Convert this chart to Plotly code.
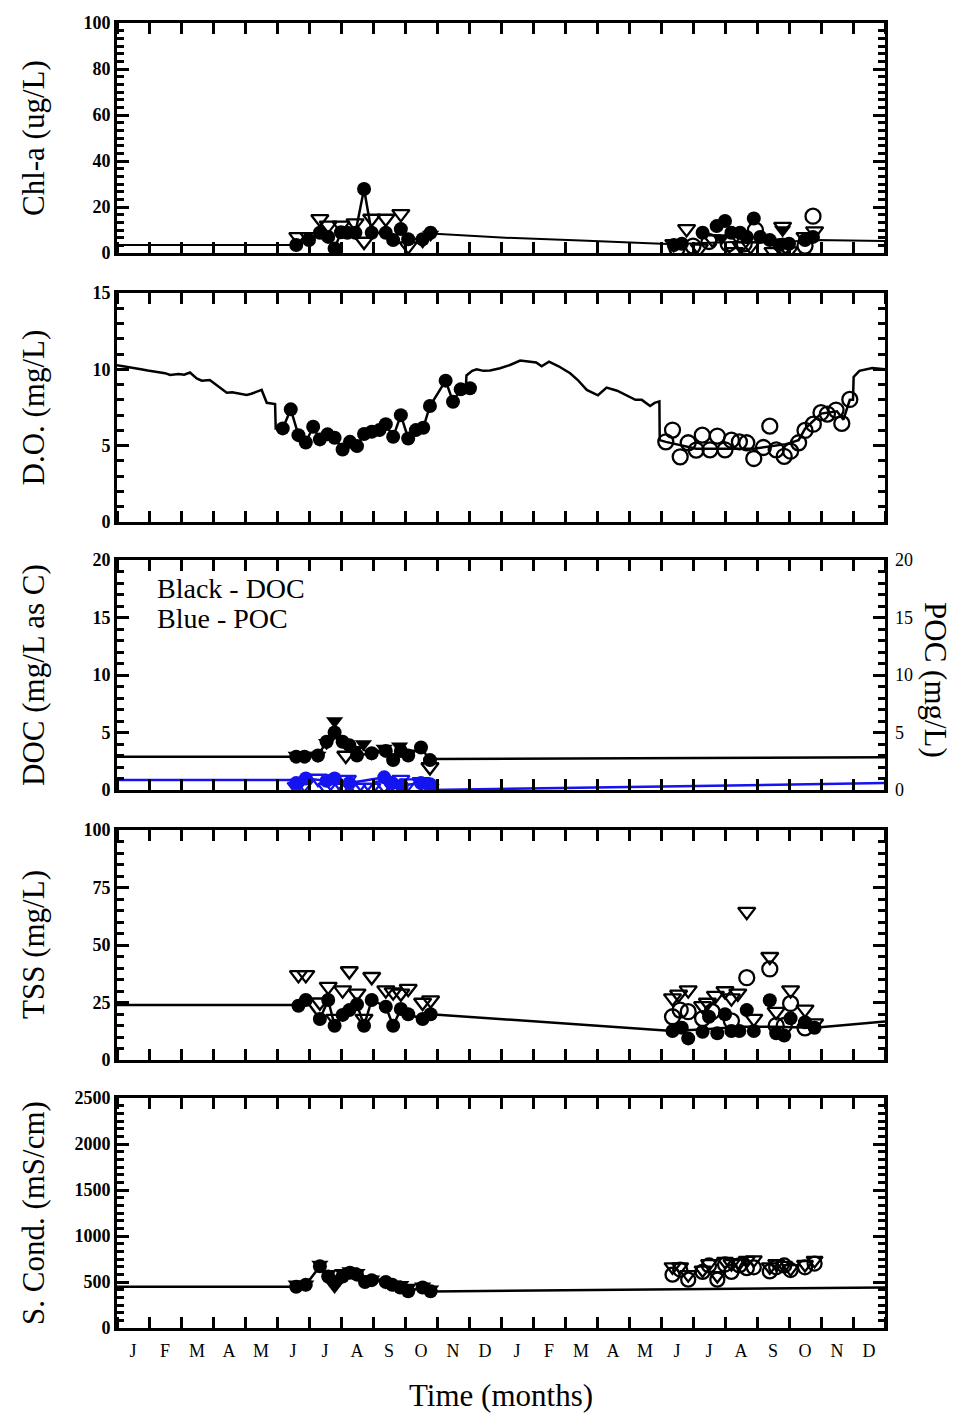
import plotly.graph_objects as go

# ---------------- data (x in months from Jan 1 of year 1; 0..24) ----------------
MONTH_LABELS = ["J", "F", "M", "A", "M", "J", "J", "A", "S", "O", "N", "D"] * 2

# Chl-a (ug/L)
chl_model_m = [0, 5.6, None, 9.8, 12.0, 14.5, 17.0, 17.4, 18.3, 19.5, 20.5, 21.8, 24.0]
chl_model_v = [3.5, 3.5, None, 8.5, 6.7, 5.4, 4.2, 3.8, 4.4, 4.9, 4.5, 5.6, 5.2]
chl_y1_circ_m = [5.6, 6.0, 6.34, 6.6, 6.8, 7.0, 7.2, 7.45, 7.72, 7.96, 8.4, 8.63, 8.87, 9.1, 9.55, 9.8]
chl_y1_circ_v = [3.5, 5.6, 8.8, 7.0, 2.0, 9.0, 8.8, 8.8, 27.8, 8.8, 8.8, 5.6, 10.4, 6.0, 6.0, 8.8]
chl_y1_tri_m = [5.65, 6.0, 6.34, 6.6, 7.0, 7.44, 7.72, 7.96, 8.4, 8.87, 9.1]
chl_y1_tri_v = [7.0, 7.0, 14.8, 12.0, 12.0, 13.0, 5.0, 15.0, 15.0, 17.0, 3.0]
chl_y1_ftri_m = [9.55, 9.8]
chl_y1_ftri_v = [5.0, 8.0]
chl_y2_circ_m = [17.4, 17.65, 18.3, 18.74, 19.0, 19.2, 19.47, 19.68, 19.9, 20.1, 20.4, 20.7, 21.0, 21.5, 21.75]
chl_y2_circ_v = [3.5, 4.0, 8.8, 11.7, 13.9, 8.8, 8.8, 7.0, 15.0, 7.0, 5.6, 3.5, 4.0, 5.6, 7.0]
chl_y2_ocirc_m = [17.5, 18.0, 18.5, 19.1, 19.6, 19.95, 20.8, 21.5, 21.75]
chl_y2_ocirc_v = [2.0, 3.0, 5.0, 4.0, 4.0, 10.0, 3.0, 3.0, 16.0]
chl_y2_tri_m = [17.4, 17.8, 18.2, 18.6, 19.3, 19.5, 19.8, 20.5, 20.8, 21.0, 21.5, 21.8]
chl_y2_tri_v = [4.0, 10.5, 2.0, 6.0, 0.5, 3.0, 3.0, 0.5, 11.5, 0.8, 7.0, 9.5]
chl_y2_ftri_m = [17.5, 18.9, 20.8, 21.6]
chl_y2_ftri_v = [4.5, 6.5, 10.0, 7.5]

# D.O. (mg/L)
do_model_m = [0, 0.2, 0.51, 0.75, 0.96, 1.29, 1.5, 1.66, 1.92, 2.1, 2.28, 2.49, 2.65, 2.9, 3.17, 3.43,
              3.6, 3.74, 4.05, 4.2, 4.31, 4.52, 4.68, 4.94, 4.96, 5.18, None,
              10.9, 10.92, 11.1, 11.24, 11.45, 11.66, 11.97, 12.3, 12.6, 12.9, 13.1, 13.27, 13.5, 13.8,
              14.16, 14.4, 14.68, 15.03, 15.3, 15.63, 15.9, 16.2, 16.4, 16.66, 16.8, 16.95, 16.96,
              17.15, 18.1, 19.9, 20.9, 21.3, 21.5, 22.0, 22.5, 22.7, 22.9, 23.0, 23.02, 23.2, 23.6, 24.0]
do_model_v = [10.27, 10.2, 10.13, 10.0, 9.92, 9.79, 9.75, 9.63, 9.7, 9.65, 9.79, 9.41, 9.26, 9.3, 8.87, 8.47,
              8.5, 8.43, 8.32, 8.4, 8.47, 8.65, 7.81, 7.73, 6.13, 6.13, None,
              8.72, 9.6, 9.9, 10.0, 9.9, 9.92, 10.07, 10.3, 10.57, 10.5, 10.45, 10.2, 10.5, 10.2,
              9.74, 9.3, 8.65, 8.3, 8.8, 8.6, 8.3, 8.0, 8.0, 7.6, 7.8, 7.9, 5.36,
              5.25, 4.8, 4.8, 5.1, 5.36, 6.1, 7.1, 7.25, 6.7, 8.0, 8.0, 9.5, 9.9, 10.08, 10.0]
do_y1_m = [5.18, 5.43, 5.67, 5.9, 6.13, 6.34, 6.58, 6.8, 7.05, 7.28, 7.5, 7.72, 7.96, 8.2, 8.4, 8.63,
           8.87, 9.1, 9.34, 9.57, 9.78, 10.27, 10.5, 10.74, 11.03]
do_y1_v = [6.13, 7.38, 5.69, 5.21, 6.24, 5.41, 5.74, 5.52, 4.75, 5.25, 4.97, 5.76, 5.91, 6.02, 6.41, 5.58,
           7.0, 5.47, 6.02, 6.17, 7.6, 9.26, 7.88, 8.69, 8.76]
do_y2_m = [17.15, 17.36, 17.6, 17.85, 18.1, 18.29, 18.53, 18.76, 19.0, 19.2, 19.45, 19.68, 19.9, 20.2,
           20.4, 20.6, 20.85, 21.05, 21.3, 21.5, 21.76, 22.0, 22.2, 22.47, 22.65, 22.9]
do_y2_v = [5.25, 6.02, 4.27, 5.19, 4.71, 5.69, 4.73, 5.63, 4.73, 5.36, 5.25, 5.19, 4.16, 4.88,
           6.28, 4.73, 4.3, 4.64, 5.19, 6.0, 6.41, 7.16, 7.07, 7.33, 6.46, 8.03]

# DOC / POC (mg/L)
doc_model_m = [0, 5.6, None, 9.78, 24.0]
doc_model_v = [2.9, 2.9, None, 2.7, 2.85]
doc_circ_m = [5.6, 5.86, 6.28, 6.55, 6.8, 7.05, 7.26, 7.5, 7.96, 8.4, 8.63, 8.87, 9.1, 9.5, 9.78]
doc_circ_v = [2.9, 2.9, 3.0, 4.2, 5.0, 4.2, 3.9, 3.0, 3.2, 3.4, 2.6, 3.4, 3.0, 3.7, 2.6]
doc_ftri_m = [5.6, 5.86, 6.28, 6.55, 6.8, 7.15, 7.44, 7.7, 7.96, 8.35, 8.83, 9.1]
doc_ftri_v = [3.0, 3.0, 3.0, 4.1, 6.0, 4.0, 3.5, 4.0, 3.2, 3.6, 3.8, 3.2]
doc_otri_m = [7.15, 9.78]
doc_otri_v = [3.0, 2.0]
poc_model_m = [0, 5.6, None, 9.78, 24.0]
poc_model_v = [0.87, 0.87, None, 0.0, 0.6]
poc_circ_m = [5.6, 5.9, 6.55, 6.8, 7.26, 8.35, 8.6, 8.9, 9.5, 9.78]
poc_circ_v = [0.6, 1.0, 0.8, 1.0, 0.6, 1.1, 0.6, 0.4, 0.6, 0.5]
poc_tri_m = [5.6, 5.86, 6.28, 6.55, 6.8, 7.05, 7.2, 7.5, 7.72, 7.96, 8.35, 8.63, 8.87, 9.1, 9.5, 9.78]
poc_tri_v = [0.3, 0.5, 1.0, 0.2, 0.2, 0.3, 0.9, 0.2, 0.2, 0.2, 0.4, 0.2, 0.9, 0.6, 0.7, 0.2]
poc_scale_ticks = [0, 5, 10, 15, 20]

# TSS (mg/L)
tss_model_m = [0, 5.67, None, 9.8, 12.0, 17.0, 17.36, 18.5, 19.5, 20.5, 21.8, 24.0]
tss_model_v = [23.9, 23.9, None, 19.9, 17.8, 13.0, 12.6, 13.5, 14.5, 14.5, 14.0, 16.7]
tss_y1_circ_m = [5.67, 5.9, 6.34, 6.6, 6.8, 7.05, 7.26, 7.5, 7.72, 7.96, 8.4, 8.63, 8.87, 9.1, 9.55, 9.8]
tss_y1_circ_v = [23.6, 26.1, 17.8, 26.1, 14.9, 19.6, 21.7, 24.2, 14.9, 26.1, 23.2, 14.9, 22.2, 19.9, 17.8, 19.9]
tss_y1_tri_m = [5.67, 5.9, 6.34, 6.6, 6.8, 7.05, 7.26, 7.5, 7.72, 7.96, 8.4, 8.63, 8.87, 9.1, 9.55, 9.8]
tss_y1_tri_v = [37.0, 37.0, 25.1, 31.9, 18.0, 30.4, 38.7, 29.0, 18.0, 36.2, 30.4, 29.5, 29.0, 31.0, 25.0, 26.0]
tss_y2_circ_m = [17.36, 17.65, 17.85, 18.3, 18.5, 18.76, 19.0, 19.2, 19.45, 19.68, 19.9, 20.4, 20.6, 20.85,
                 21.05, 21.5, 21.8]
tss_y2_circ_v = [12.6, 14.0, 9.4, 12.3, 18.8, 11.6, 19.9, 12.6, 12.6, 21.7, 12.6, 26.0, 11.6, 10.6,
                 18.1, 16.4, 14.0]
tss_y2_ocirc_m = [17.36, 17.6, 17.85, 18.3, 18.6, 19.2, 19.68, 20.4, 20.6, 20.85, 21.05, 21.5]
tss_y2_ocirc_v = [18.8, 21.7, 21.0, 18.0, 21.0, 17.0, 35.8, 39.6, 15.0, 15.0, 24.6, 14.0]
tss_y2_tri_m = [17.36, 17.55, 17.85, 18.3, 18.45, 18.7, 19.0, 19.2, 19.4, 19.68, 19.9, 20.4, 20.6, 21.05,
                21.5, 21.8]
tss_y2_tri_v = [26.9, 28.5, 30.4, 23.5, 25.0, 28.0, 30.0, 26.9, 29.0, 64.5, 18.0, 44.9, 21.0, 30.4,
                22.0, 16.0]

# Specific conductance (mS/cm)
sc_model_m = [0, 5.6, None, 9.8, 24.0]
sc_model_v = [449, 449, None, 398, 441]
sc_y1_circ_m = [5.6, 5.9, 6.34, 6.6, 6.8, 7.05, 7.28, 7.5, 7.75, 7.96, 8.4, 8.6, 8.85, 9.1, 9.55, 9.8]
sc_y1_circ_v = [449, 470, 670, 560, 500, 560, 600, 580, 500, 520, 500, 470, 440, 400, 440, 400]
sc_y1_tri_m = [5.6, 5.9, 6.34, 6.6, 6.8, 7.05, 7.28, 7.5, 7.75, 7.96, 8.4, 8.63, 8.87, 9.1, 9.55, 9.8]
sc_y1_tri_v = [475, 475, 690, 590, 450, 600, 620, 600, 530, 530, 500, 475, 470, 440, 455, 420]
sc_y2_circ_m = [17.36, 17.6, 17.85, 18.3, 18.5, 18.76, 19.0, 19.2, 19.45, 19.68, 19.9, 20.4, 20.6, 20.85,
                21.05, 21.5, 21.8]
sc_y2_circ_v = [580, 635, 525, 610, 680, 525, 690, 610, 680, 650, 660, 615, 660, 680, 630, 660, 700]
sc_y2_tri_m = [17.36, 17.6, 17.85, 18.3, 18.5, 18.76, 19.0, 19.2, 19.45, 19.68, 19.9, 20.4, 20.6, 20.85,
               21.05, 21.5, 21.8]
sc_y2_tri_v = [665, 665, 580, 630, 700, 570, 725, 700, 710, 735, 740, 665, 700, 680, 645, 690, 735]

# ---------------- layout geometry ----------------
W, H = 967, 1413
ML, MR, MT, MB = 117, 82, 23, 85
PLOT_H = H - MT - MB
# panel (top, bottom) pixel rows
PANELS = [(23, 253), (293, 522), (560, 790), (830, 1060), (1098, 1328)]


def dom(top, bot):
    base = H - MB
    return [(base - bot) / PLOT_H, (base - top) / PLOT_H]


SERIF = "Liberation Serif, Times New Roman, serif"
BLACK = "black"
BLUE = "#1414f0"
TITLE_SIZE = 31
KEY_SIZE = 28

fig = go.Figure()


def line(xa, ya, m, v, color=BLACK, width=2.5):
    fig.add_trace(go.Scatter(x=m, y=v, mode="lines", xaxis=xa, yaxis=ya,
                             line=dict(color=color, width=width), connectgaps=False,
                             showlegend=False, hoverinfo="skip"))


def pts(xa, ya, m, v, symbol, color=BLACK, size=14, lines=False):
    open_sym = symbol.endswith("-open")
    fig.add_trace(go.Scatter(
        x=m, y=v, xaxis=xa, yaxis=ya,
        mode="lines+markers" if lines else "markers",
        line=dict(color=color, width=2.5),
        marker=dict(symbol=symbol, size=size, color=color,
                    line=dict(color=color, width=2.3 if open_sym else 0)),
        showlegend=False, hoverinfo="skip"))


CIRC, OCIRC, TRI = 14, 15, 15

# Panel 1: Chl-a
line("x", "y", chl_model_m, chl_model_v, width=2)
pts("x", "y", chl_y1_tri_m, chl_y1_tri_v, "triangle-down-open", size=TRI)
pts("x", "y", chl_y1_ftri_m, chl_y1_ftri_v, "triangle-down", size=TRI)
pts("x", "y", chl_y1_circ_m, chl_y1_circ_v, "circle", size=CIRC, lines=True)
pts("x", "y", chl_y2_tri_m, chl_y2_tri_v, "triangle-down-open", size=TRI)
pts("x", "y", chl_y2_ftri_m, chl_y2_ftri_v, "triangle-down", size=TRI)
pts("x", "y", chl_y2_ocirc_m, chl_y2_ocirc_v, "circle-open", size=OCIRC)
pts("x", "y", chl_y2_circ_m, chl_y2_circ_v, "circle", size=CIRC)

# Panel 2: D.O.
line("x2", "y2", do_model_m, do_model_v)
pts("x2", "y2", do_y1_m, do_y1_v, "circle", size=CIRC, lines=True)
pts("x2", "y2", do_y2_m, do_y2_v, "circle-open", size=OCIRC)

# Panel 3: DOC (black) and POC (blue)
line("x3", "y3", doc_model_m, doc_model_v)
line("x3", "y3", poc_model_m, poc_model_v, color=BLUE)
pts("x3", "y3", doc_circ_m, doc_circ_v, "circle", size=CIRC, lines=True)
pts("x3", "y3", doc_ftri_m, doc_ftri_v, "triangle-down", size=TRI)
pts("x3", "y3", doc_otri_m, doc_otri_v, "triangle-down-open", size=TRI)
pts("x3", "y3", poc_tri_m, poc_tri_v, "triangle-down-open", color=BLUE, size=TRI)
pts("x3", "y3", poc_circ_m, poc_circ_v, "circle", color=BLUE, size=CIRC, lines=True)
# invisible trace so the right-hand POC scale is rendered
fig.add_trace(go.Scatter(x=[None], y=[None], xaxis="x3", yaxis="y6", mode="markers",
                         showlegend=False, hoverinfo="skip"))

# Panel 4: TSS
line("x4", "y4", tss_model_m, tss_model_v)
pts("x4", "y4", tss_y1_tri_m, tss_y1_tri_v, "triangle-down-open", size=TRI)
pts("x4", "y4", tss_y1_circ_m, tss_y1_circ_v, "circle", size=CIRC, lines=True)
pts("x4", "y4", tss_y2_tri_m, tss_y2_tri_v, "triangle-down-open", size=TRI)
pts("x4", "y4", tss_y2_ocirc_m, tss_y2_ocirc_v, "circle-open", size=OCIRC)
pts("x4", "y4", tss_y2_circ_m, tss_y2_circ_v, "circle", size=CIRC)

# Panel 5: specific conductance
line("x5", "y5", sc_model_m, sc_model_v)
pts("x5", "y5", sc_y1_circ_m, sc_y1_circ_v, "circle", size=CIRC, lines=True)
pts("x5", "y5", sc_y1_tri_m, sc_y1_tri_v, "triangle-down", size=TRI)
pts("x5", "y5", sc_y2_circ_m, sc_y2_circ_v, "circle-open", size=OCIRC - 1)
pts("x5", "y5", sc_y2_tri_m, sc_y2_tri_v, "triangle-down-open", size=TRI - 1)

# ---------------- axes ----------------
tick_font = dict(family=SERIF, size=18, color=BLACK, weight="bold")
layout = dict(
    width=W, height=H,
    margin=dict(l=ML, r=MR, t=MT, b=MB, pad=0),
    paper_bgcolor="white", plot_bgcolor="white",
    font=dict(family=SERIF, color=BLACK),
    showlegend=False,
)

y_specs = [
    # (range max, major step, number of minor intervals, title)
    (100, 20, 6, "Chl-a (ug/L)"),
    (15, 5, 5, "D.O. (mg/L)"),
    (20, 5, 5, "DOC (mg/L as C)"),
    (100, 25, 5, "TSS (mg/L)"),
    (2500, 500, 6, "S. Cond. (mS/cm)"),
]

for i, ((top, bot), (ymax, step, nminor, title)) in enumerate(zip(PANELS, y_specs), start=1):
    sx = "" if i == 1 else str(i)
    majors = [k * step for k in range(int(round(ymax / step)) + 1)]
    minors = [k * step / nminor for k in range(int(round(ymax / step)) * nminor + 1) if k % nminor]
    layout["xaxis" + sx] = dict(
        domain=[0, 1], anchor="y" + sx, range=[0, 24],
        showline=True, linewidth=3, linecolor=BLACK, mirror="allticks",
        showgrid=False, zeroline=False,
        tickmode="array", tickvals=[k + 0.5 for k in range(24)], ticktext=MONTH_LABELS,
        ticks="", showticklabels=(i == 5), tickfont=dict(family=SERIF, size=18, color=BLACK),
        ticklabelstandoff=4,
        minor=dict(tickmode="array", tickvals=list(range(25)), ticks="inside",
                   ticklen=11, tickwidth=3, tickcolor=BLACK, showgrid=False),
    )
    layout["yaxis" + sx] = dict(
        domain=dom(top, bot), anchor="x" + sx, range=[0, ymax],
        showline=True, linewidth=3, linecolor=BLACK, mirror="allticks",
        showgrid=False, zeroline=False,
        tickmode="array", tickvals=majors, ticktext=[str(v) for v in majors],
        ticks="inside", ticklen=12, tickwidth=3, tickcolor=BLACK,
        tickfont=tick_font,
        minor=dict(tickmode="array", tickvals=minors, ticks="inside",
                   ticklen=7, tickwidth=3, tickcolor=BLACK, showgrid=False),
    )

# right-hand POC scale on panel 3
layout["yaxis6"] = dict(
    overlaying="y3", side="right", anchor="x3", range=[0, 20],
    tickmode="array", tickvals=poc_scale_ticks, ticktext=[str(v) for v in poc_scale_ticks],
    ticks="", showline=False, showgrid=False, zeroline=False,
    ticklabelstandoff=9,
    tickfont=dict(family=SERIF, size=18, color=BLACK),
)

annotations = []
for (top, bot), (_, _, _, title) in zip(PANELS, y_specs):
    d = dom(top, bot)
    annotations.append(dict(
        text=title, xref="paper", yref="paper", x=0, y=(d[0] + d[1]) / 2,
        xshift=-84, textangle=-90, showarrow=False, xanchor="center", yanchor="middle",
        font=dict(family=SERIF, size=TITLE_SIZE, color=BLACK)))
d3 = dom(*PANELS[2])
annotations.append(dict(
    text="POC (mg/L)", xref="paper", yref="paper", x=1, y=(d3[0] + d3[1]) / 2,
    xshift=51, yshift=-5, textangle=90, showarrow=False, xanchor="center", yanchor="middle",
    font=dict(family=SERIF, size=TITLE_SIZE, color=BLACK)))
annotations.append(dict(
    text="Black - DOC", xref="x3", yref="y3", x=1.2, y=17.55, xanchor="left", yanchor="middle",
    showarrow=False, font=dict(family=SERIF, size=KEY_SIZE, color=BLACK)))
annotations.append(dict(
    text="Blue - POC", xref="x3", yref="y3", x=1.2, y=14.95, xanchor="left", yanchor="middle",
    showarrow=False, font=dict(family=SERIF, size=KEY_SIZE, color=BLACK)))
annotations.append(dict(
    text="Time (months)", xref="paper", yref="paper", x=0.5, y=0, yshift=-67,
    xanchor="center", yanchor="middle", showarrow=False,
    font=dict(family=SERIF, size=TITLE_SIZE, color=BLACK)))
layout["annotations"] = annotations

fig.update_layout(**layout)
fig.write_html("out.html")
